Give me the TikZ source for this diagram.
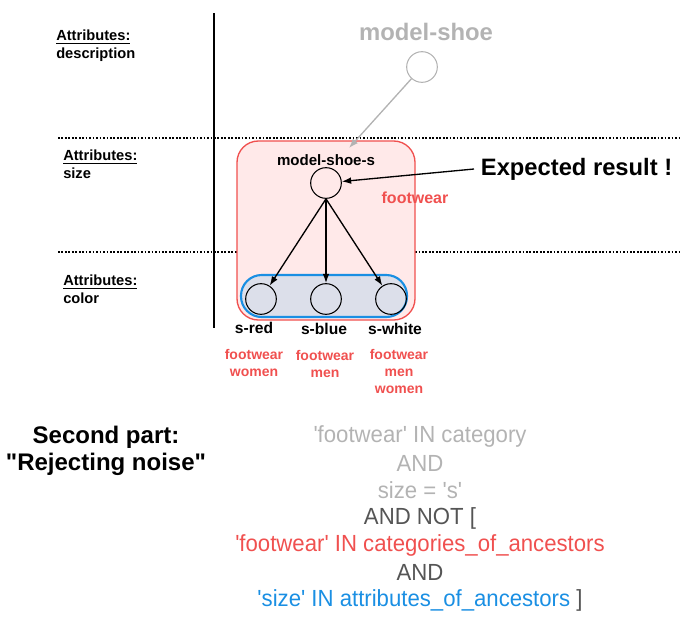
\documentclass[tikz,border=0pt]{standalone}
\usepackage{fontspec}
\setmainfont{Liberation Sans}[Ligatures=TeXOff]
\newfontfamily\narrowfont{Liberation Sans}[Ligatures=TeXOff, FakeStretch=0.95]
\usetikzlibrary{arrows.meta}
\definecolor{boxred}{HTML}{F0504F}
\definecolor{boxpink}{HTML}{FFE9E9}
\definecolor{boxblue}{HTML}{1A8FE3}
\definecolor{boxlav}{HTML}{DCDFEA}
\definecolor{ghost}{HTML}{B3B3B3}
\definecolor{darkgray}{HTML}{555555}
\tikzset{
  item/.style={circle, draw, line width=0.8pt, minimum size=23pt, inner sep=0pt},
  attr/.style={font=\bfseries\fontsize{11}{13}\selectfont, align=left, anchor=north west, inner sep=0pt},
  leaf/.style={font=\bfseries\fontsize{11.7}{13}\selectfont},
  cat/.style={font=\bfseries\fontsize{10.5}{12.8}\selectfont, text=boxred, align=center, anchor=north},
  query/.style={font=\narrowfont\fontsize{17.5}{19}\selectfont},
  link/.style={-{Latex[length=7pt,width=5pt]}, line width=1pt},
  level/.style={line width=1.3pt, dash pattern=on 1.3pt off 1.3pt}
}
\begin{document}
\begin{tikzpicture}[x=0.75pt, y=-0.75pt]
\useasboundingbox (0,0) rectangle (682,629);

% levels
\draw[level] (58,138) -- (682,138);
\draw[level] (58,252) -- (682,252);
\draw[line width=1.5pt] (214,13) -- (214,328);

\node[attr] (adesc) at (56,30) {\underline{Attributes:}\\description};
\node[attr] (asize) at (63,150) {\underline{Attributes:}\\size};
\node[attr] (acolor) at (63,275) {\underline{Attributes:}\\color};

% boxes
\draw[boxred, fill=boxpink, line width=1pt, rounded corners=16pt] (237,141) rectangle (415,320);
\draw[boxblue, fill=boxlav, line width=1.6pt, rounded corners=15.5pt] (241,275) rectangle (407,317);

% nodes
\node[font=\bfseries\fontsize{17.9}{20}\selectfont, text=ghost] (tshoe) at (426,32) {model-shoe};
\node[item, draw=ghost] (shoe) at (422,67) {};
\node[font=\bfseries\fontsize{11.3}{13}\selectfont] (tshoes) at (326,160) {model-shoe-s};
\node[item] (shoes) at (326,183) {};
\node[font=\bfseries\fontsize{12}{14}\selectfont, text=boxred] (fw) at (415,198) {footwear};
\node[font=\bfseries\fontsize{17.8}{20}\selectfont, anchor=west, inner sep=5pt] (expected) at (474,169) {Expected result !};

\node[item] (red) at (261,299) {};
\node[item] (blue) at (326,299) {};
\node[item] (white) at (391,299) {};

\node[leaf] (tred) at (254,328) {s-red};
\node[leaf] (tblue) at (324,329) {s-blue};
\node[leaf] (twhite) at (395,329) {s-white};

\node[cat] (cred) at (254,345) {footwear\\women};
\node[cat] (cblue) at (325,346) {footwear\\men};
\node[cat] (cwhite) at (399,345) {footwear\\men\\women};

% links
\coordinate (shoes-in) at (349,148);
\draw[link, draw=ghost] (shoe) -- (shoes-in);
\draw[link] (expected.west) -- (shoes);
\draw[link] (shoes.south) -- (red);
\draw[link] (shoes.south) -- (blue);
\draw[link] (shoes.south) -- (white);

% second part
\node[font=\bfseries\fontsize{18}{20.3}\selectfont, align=center] (part) at (106,451) {Second part:\\"Rejecting noise"};

\node[query, text=ghost] (q1) at (420,436) {'footwear' IN category};
\node[query, text=ghost] (q2) at (420,463) {AND};
\node[query, text=ghost] (q3) at (420,490) {size = 's'};
\node[query, text=darkgray] (q4) at (420,518) {AND NOT [};
\node[query, text=boxred] (q5) at (420,545) {'footwear' IN categories\_of\_ancestors};
\node[query, text=darkgray] (q6) at (420,572) {AND};
\node[query] (q7) at (420,600) {\textcolor{boxblue}{'size' IN attributes\_of\_ancestors} \textcolor{darkgray}{]}};
\end{tikzpicture}
\end{document}
